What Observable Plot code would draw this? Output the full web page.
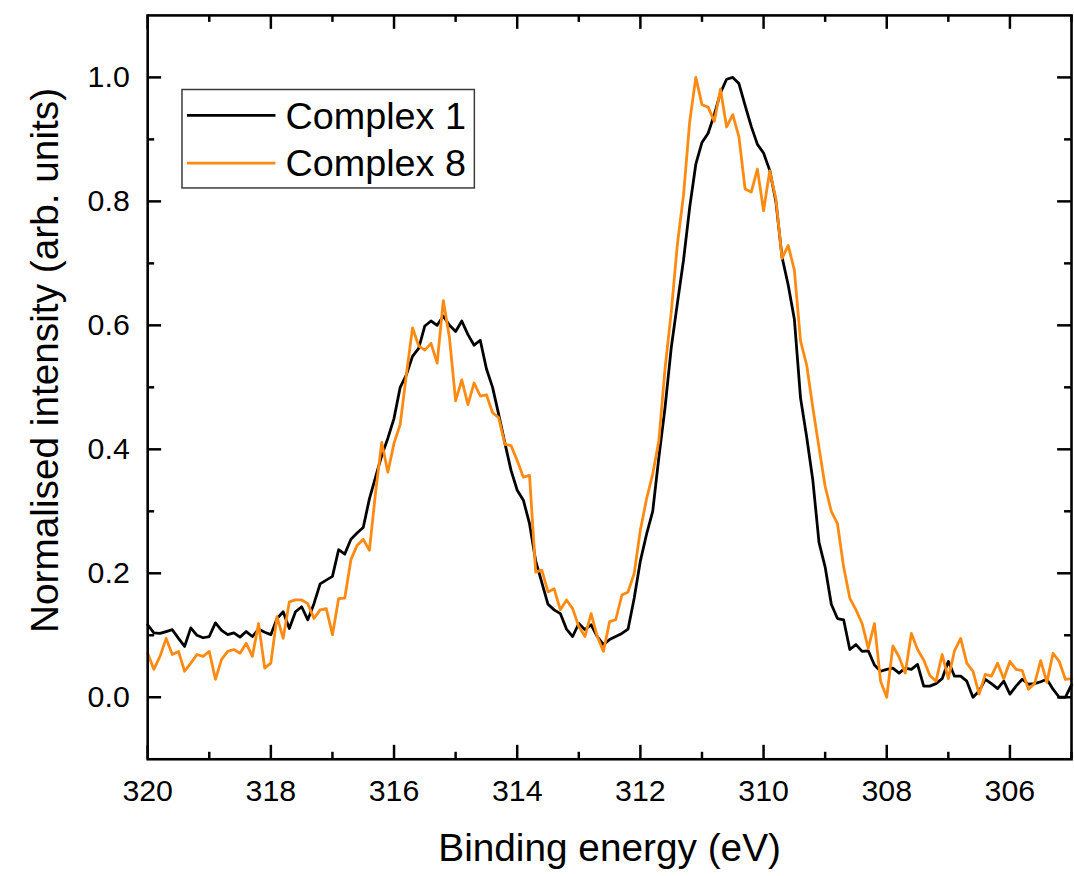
<!DOCTYPE html>
<html><head><meta charset="utf-8">
<script src="https://cdn.jsdelivr.net/npm/d3@7"></script>
<script src="https://cdn.jsdelivr.net/npm/@observablehq/plot@0.6"></script>
<style>html,body{margin:0;padding:0;background:#fff;overflow:hidden;} #chart{width:1074px;height:876px;overflow:hidden;}</style>
</head><body><div id="chart"></div>
<script>
const energy = [
320.0,319.9,319.8,319.7,319.6,319.5,319.4,319.3,319.2,319.1,
319.0,318.9,318.8,318.7,318.6,318.5,318.4,318.3,318.2,318.1,
318.0,317.9,317.8,317.7,317.6,317.5,317.4,317.3,317.2,317.1,
317.0,316.9,316.8,316.7,316.6,316.5,316.4,316.3,316.2,316.1,
316.0,315.9,315.8,315.7,315.6,315.5,315.4,315.3,315.2,315.1,
315.0,314.9,314.8,314.7,314.6,314.5,314.4,314.3,314.2,314.1,
314.0,313.9,313.8,313.7,313.6,313.5,313.4,313.3,313.2,313.1,
313.0,312.9,312.8,312.7,312.6,312.5,312.4,312.3,312.2,312.1,
312.0,311.9,311.8,311.7,311.6,311.5,311.4,311.3,311.2,311.1,
311.0,310.9,310.8,310.7,310.6,310.5,310.4,310.3,310.2,310.1,
310.0,309.9,309.8,309.7,309.6,309.5,309.4,309.3,309.2,309.1,
309.0,308.9,308.8,308.7,308.6,308.5,308.4,308.3,308.2,308.1,
308.0,307.9,307.8,307.7,307.6,307.5,307.4,307.3,307.2,307.1,
307.0,306.9,306.8,306.7,306.6,306.5,306.4,306.3,306.2,306.1,
306.0,305.9,305.8,305.7,305.6,305.5,305.4,305.3,305.2,305.1,
305.0];

const complex1 = [
0.117,0.104,0.103,0.106,0.109,0.095,0.082,0.112,0.100,0.096,
0.098,0.120,0.108,0.101,0.104,0.097,0.106,0.098,0.110,0.105,
0.101,0.127,0.138,0.111,0.138,0.146,0.125,0.151,0.183,0.189,
0.195,0.238,0.231,0.255,0.265,0.274,0.320,0.355,0.390,0.418,
0.450,0.500,0.520,0.550,0.563,0.599,0.607,0.600,0.615,0.600,
0.590,0.607,0.585,0.568,0.576,0.530,0.500,0.456,0.410,0.366,
0.334,0.318,0.280,0.220,0.185,0.150,0.141,0.135,0.110,0.098,
0.119,0.109,0.117,0.098,0.085,0.093,0.098,0.103,0.110,0.160,
0.220,0.263,0.300,0.387,0.467,0.563,0.635,0.705,0.790,0.860,
0.895,0.910,0.940,0.975,0.997,1.000,0.990,0.955,0.921,0.892,
0.878,0.850,0.800,0.710,0.665,0.610,0.483,0.420,0.350,0.250,
0.210,0.150,0.127,0.125,0.077,0.085,0.074,0.075,0.052,0.042,
0.045,0.047,0.039,0.047,0.045,0.053,0.018,0.018,0.022,0.030,
0.058,0.034,0.034,0.026,0.000,0.010,0.029,0.022,0.014,0.026,
0.005,0.018,0.029,0.021,0.022,0.025,0.029,0.013,0.000,0.000,
0.020];

const complex8 = [
0.071,0.045,0.066,0.095,0.069,0.074,0.042,0.055,0.069,0.066,
0.074,0.029,0.061,0.074,0.077,0.071,0.087,0.066,0.119,0.047,
0.055,0.130,0.095,0.154,0.157,0.157,0.151,0.127,0.141,0.143,
0.101,0.159,0.160,0.222,0.245,0.255,0.237,0.330,0.411,0.363,
0.410,0.440,0.520,0.596,0.567,0.560,0.571,0.539,0.640,0.580,
0.478,0.512,0.472,0.507,0.486,0.488,0.459,0.451,0.408,0.406,
0.382,0.355,0.358,0.202,0.205,0.170,0.175,0.141,0.157,0.143,
0.114,0.098,0.135,0.098,0.074,0.122,0.125,0.165,0.170,0.200,
0.270,0.320,0.360,0.414,0.530,0.620,0.730,0.810,0.928,1.000,
0.956,0.952,0.929,0.981,0.920,0.940,0.904,0.820,0.815,0.852,
0.785,0.849,0.804,0.708,0.729,0.689,0.575,0.536,0.467,0.403,
0.340,0.300,0.280,0.210,0.160,0.141,0.119,0.079,0.119,0.026,
0.000,0.083,0.065,0.039,0.103,0.077,0.060,0.035,0.026,0.069,
0.030,0.075,0.095,0.055,0.042,0.005,0.037,0.034,0.055,0.030,
0.058,0.045,0.043,0.013,0.022,0.059,0.024,0.071,0.058,0.029,
0.030];

const seriesNames = ["Complex 1", "Complex 8"];
const seriesColors = ["#000000", "#ff8a12"];
const xMajorTicks = [320, 318, 316, 314, 312, 310, 308, 306];
const xMinorTicks = [319, 317, 315, 313, 311, 309, 307, 305];
const yMajorTicks = [0.0, 0.2, 0.4, 0.6, 0.8, 1.0];
const yMinorTicks = [0.1, 0.3, 0.5, 0.7, 0.9];
const xLabel = "Binding energy (eV)";
const yLabel = "Normalised intensity (arb. units)";

const rows = [];
[complex1, complex8].forEach((vals, s) => {
  vals.forEach((v, i) => rows.push({series: seriesNames[s], energy: energy[i], value: v}));
});

const W = 1080, H = 876, mL = 148, mR = 3, mT = 15, mB = 113;
const pw = W - mL - mR, ph = H - mT - mB;
const major = 14, minor = 7, tw = 2.5;
const fmtY = d3.format(".1f");

const plot = Plot.plot({
  width: W, height: H,
  marginLeft: mL, marginRight: mR, marginTop: mT, marginBottom: mB,
  style: {fontFamily: "'Liberation Sans', Arial, sans-serif", background: "white", color: "black", overflow: "visible"},
  x: {domain: [320, 305], axis: null},
  y: {domain: [-0.1, 1.1], axis: null},
  color: {domain: seriesNames, range: seriesColors},
  marks: [
    Plot.text(xMajorTicks, {x: d => d, text: d => String(d), frameAnchor: "bottom", dy: 20, lineAnchor: "top", fontSize: 30.5, fill: "black"}),
    Plot.text(yMajorTicks, {y: d => d, text: d => fmtY(d), frameAnchor: "left", dx: -18, textAnchor: "end", lineAnchor: "middle", fontSize: 30.5, fill: "black"}),
    Plot.tickX(xMajorTicks, {x: d => d, insetTop: ph - major, stroke: "black", strokeWidth: tw}),
    Plot.tickX(xMinorTicks, {x: d => d, insetTop: ph - minor, stroke: "black", strokeWidth: tw}),
    Plot.tickX(xMajorTicks, {x: d => d, insetBottom: ph - major, stroke: "black", strokeWidth: tw}),
    Plot.tickX(xMinorTicks, {x: d => d, insetBottom: ph - minor, stroke: "black", strokeWidth: tw}),
    Plot.tickY(yMajorTicks, {y: d => d, insetRight: pw - major, stroke: "black", strokeWidth: tw}),
    Plot.tickY(yMinorTicks, {y: d => d, insetRight: pw - minor, stroke: "black", strokeWidth: tw}),
    Plot.tickY(yMajorTicks, {y: d => d, insetLeft: pw - major, stroke: "black", strokeWidth: tw}),
    Plot.tickY(yMinorTicks, {y: d => d, insetLeft: pw - minor, stroke: "black", strokeWidth: tw}),
    Plot.line(rows, {x: "energy", y: "value", z: "series", stroke: "series", strokeWidth: 2.8, strokeLinejoin: "round"}),
    Plot.frame({stroke: "black", strokeWidth: 2.6}),
    Plot.text([xLabel], {frameAnchor: "bottom", dy: 90, fontSize: 39, fill: "black", textAnchor: "middle", lineAnchor: "middle"}),
    Plot.text([yLabel], {frameAnchor: "left", dx: -103, dy: -27, rotate: -90, fontSize: 39, fill: "black", textAnchor: "middle", lineAnchor: "middle"})
  ]
});

const svg = d3.select(plot);
const g = svg.append("g").attr("font-family", "'Liberation Sans', Arial, sans-serif").attr("text-anchor", "start");
g.append("rect").attr("x", 183).attr("y", 90).attr("width", 294).attr("height", 99)
  .attr("fill", "white").attr("stroke", "#3a3a3a").attr("stroke-width", 1.5);
seriesNames.forEach((name, i) => {
  const yy = 116 + i * 48;
  g.append("line").attr("x1", 188).attr("x2", 277).attr("y1", yy).attr("y2", yy)
    .attr("stroke", seriesColors[i]).attr("stroke-width", 2.8);
  g.append("text").attr("x", 287).attr("y", yy).attr("dy", "0.35em")
    .attr("text-anchor", "start").attr("font-size", 38).attr("fill", "black").text(name);
});

document.getElementById("chart").appendChild(plot);
</script>
</body></html>
